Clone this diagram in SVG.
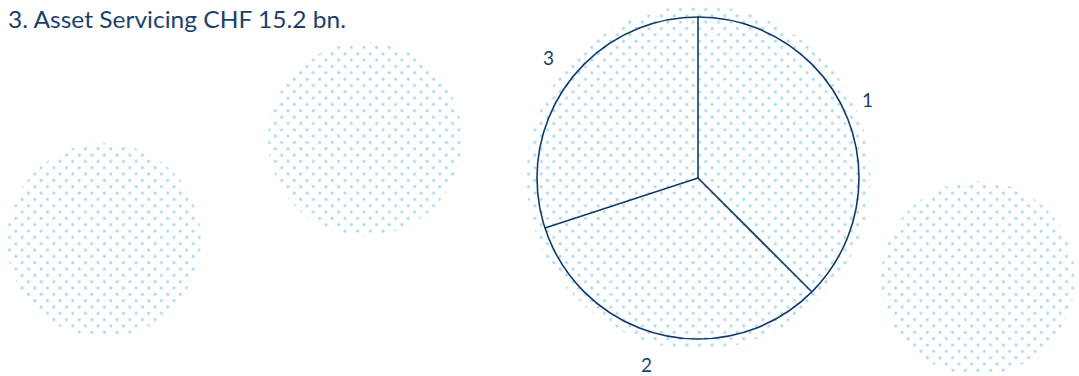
<svg xmlns="http://www.w3.org/2000/svg" width="1079" height="376" viewBox="0 0 1079 376">
<style>
.t{font-family:"Lato","Noto Sans","Liberation Sans",sans-serif;fill:#1d3f6e}
.edge{stroke:#0f3a6c;stroke-width:1.6;fill:none;stroke-linecap:round}
</style>
<defs>
<pattern id="dots" patternUnits="userSpaceOnUse" x="0" y="0" width="12.66" height="12.66">
<circle cx="3.16" cy="3.16" r="1.6" fill="#aedcee"/>
<circle cx="9.49" cy="9.49" r="1.6" fill="#aedcee"/>
</pattern>
</defs>
<rect width="1079" height="376" fill="#ffffff"/>
<text class="t" x="8" y="28" font-size="23.5" textLength="338" lengthAdjust="spacingAndGlyphs">3. Asset Servicing CHF 15.2 bn.</text>
<g id="blob-left"><circle cx="104" cy="240" r="97" fill="url(#dots)"/></g>
<g id="blob-middle"><circle cx="365" cy="139" r="97" fill="url(#dots)"/></g>
<g id="blob-right"><circle cx="978" cy="278" r="97" fill="url(#dots)"/></g>
<g id="pie">
<circle cx="698.5" cy="177.5" r="172" fill="url(#dots)"/>
<circle cx="698" cy="178" r="161" class="edge"/>
</g>
<g id="connectors">
<line class="edge" x1="698" y1="178" x2="698" y2="17"/>
<line class="edge" x1="698" y1="178" x2="811" y2="291"/>
<line class="edge" x1="698" y1="178" x2="545" y2="228"/>
</g>
<g id="label-3"><text class="t" x="543" y="65" font-size="19">3</text></g>
<g id="label-1"><text class="t" x="862" y="107" font-size="19">1</text></g>
<g id="label-2"><text class="t" x="641" y="372" font-size="19">2</text></g>
</svg>
